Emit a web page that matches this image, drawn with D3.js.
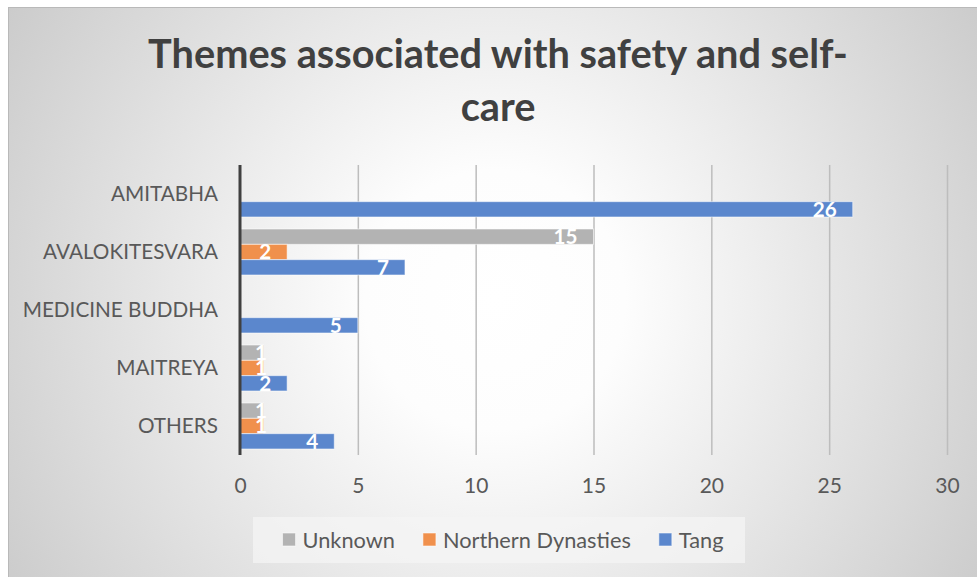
<!DOCTYPE html>
<html>
<head>
<meta charset="utf-8">
<script src="https://cdn.jsdelivr.net/npm/d3@7"></script>
<style>
  html, body { margin: 0; padding: 0; background: #ffffff; overflow: hidden; }
  svg { display: block; }
</style>
</head>
<body>
<svg id="chart" width="977" height="577"></svg>
<script>
// ---- data ----
const categories = ["AMITABHA", "AVALOKITESVARA", "MEDICINE BUDDHA", "MAITREYA", "OTHERS"];
const seriesNames = ["Unknown", "Northern Dynasties", "Tang"];
const unknownValues = [null, 15, null, 1, 1];
const northernValues = [null, 2, null, 1, 1];
const tangValues = [26, 7, 5, 2, 4];
const xTicks = [0, 5, 10, 15, 20, 25, 30];
const titleLines = ["Themes associated with safety and self-", "care"];

const seriesValues = [unknownValues, northernValues, tangValues];
const seriesColors = ["#b3b3b3", "#f0904c", "#5b87cd"];

// ---- layout ----
const W = 977, H = 577;
const FONT = "Lato, 'Open Sans', 'DejaVu Sans', sans-serif";
const plot = { left: 240, right: 947, top: 165, bottom: 455 };

const svg = d3.select("#chart");

// font size that gives a sample string a wanted width
function fitSize(sample, width, weight) {
  const t = svg.append("text")
    .attr("font-family", FONT).attr("font-weight", weight || 400)
    .attr("font-size", 100).text(sample);
  const w = t.node().getComputedTextLength();
  t.remove();
  return 100 * width / w;
}

// ---- background ----
const defs = svg.append("defs");
const grad = defs.append("radialGradient")
  .attr("id", "bg").attr("gradientUnits", "userSpaceOnUse")
  .attr("cx", 495).attr("cy", 300).attr("r", 590);
grad.append("stop").attr("offset", "0%").attr("stop-color", "#ffffff");
grad.append("stop").attr("offset", "22%").attr("stop-color", "#fdfdfd");
grad.append("stop").attr("offset", "100%").attr("stop-color", "#c9c9c9");

svg.append("rect")
  .attr("x", 8.5).attr("y", 7.5).attr("width", W - 8).attr("height", H - 7)
  .attr("fill", "url(#bg)").attr("stroke", "#b9b9b9").attr("stroke-width", 1);

// ---- title ----
const titleSize = fitSize(titleLines[0], 700, 700);
svg.append("g").selectAll("text").data(titleLines).join("text")
  .attr("x", 498)
  .attr("y", (d, i) => 67.5 + i * 53)
  .attr("text-anchor", "middle")
  .attr("font-family", FONT).attr("font-weight", 700)
  .attr("font-size", titleSize)
  .attr("fill", "#404040")
  .text(d => d);

// ---- scales ----
const x = d3.scaleLinear().domain([0, 30]).range([plot.left, plot.right]);
const y = d3.scaleBand().domain(categories)
  .range([plot.top, plot.bottom]).paddingInner(0.207).paddingOuter(0.1035);
const ySeries = d3.scaleBand().domain(seriesNames).range([0, y.bandwidth()]);

// ---- gridlines & x axis labels ----
const tickSize = 21;
const xAxis = d3.axisBottom(x).tickValues(xTicks).tickSize(0).tickPadding(0);
const gx = svg.append("g").attr("transform", `translate(0,${plot.bottom})`).call(xAxis);
gx.select(".domain").remove();
gx.selectAll(".tick text")
  .attr("y", 38).attr("dy", 0)
  .attr("font-family", FONT).attr("font-size", tickSize)
  .attr("fill", "#595959");

const grid = d3.axisBottom(x).tickValues(xTicks.filter(v => v > 0))
  .tickSize(-(plot.bottom - plot.top)).tickFormat("");
const gg = svg.append("g").attr("transform", `translate(0,${plot.bottom})`).call(grid);
gg.select(".domain").remove();
gg.selectAll(".tick line").attr("stroke", "#bdbdbd").attr("stroke-width", 1.5);

// ---- category labels ----
const catSize = fitSize("AVALOKITESVARA", 175, 400);
const yAxis = d3.axisLeft(y).tickSize(0).tickPadding(22);
const gy = svg.append("g").attr("transform", `translate(${plot.left},0)`).call(yAxis);
gy.select(".domain").remove();
gy.selectAll(".tick text")
  .attr("font-family", FONT).attr("font-size", catSize)
  .attr("fill", "#595959").attr("dy", "0.36em");

// ---- bars ----
const rows = [];
categories.forEach((c, ci) => {
  seriesNames.forEach((s, si) => {
    const v = seriesValues[si][ci];
    if (v != null) rows.push({ cat: c, series: s, value: v, color: seriesColors[si] });
  });
});

const bars = svg.append("g");
bars.selectAll("rect").data(rows).join("rect")
  .attr("x", x(0))
  .attr("y", d => y(d.cat) + ySeries(d.series))
  .attr("width", d => x(d.value) - x(0))
  .attr("height", ySeries.bandwidth())
  .attr("fill", d => d.color)
  .attr("stroke", "rgba(255,255,255,0.55)")
  .attr("stroke-width", 1);

// ---- value labels (inside end) ----
const valSize = fitSize("26", 24, 700);
const labels = bars.selectAll("text").data(rows).join("text")
  .attr("font-family", FONT).attr("font-weight", 700)
  .attr("font-size", valSize).attr("fill", "#ffffff")
  .attr("y", d => y(d.cat) + ySeries(d.series) + ySeries.bandwidth() / 2)
  .attr("dy", "0.36em")
  .text(d => d.value);
labels.each(function (d) {
  const w = this.getComputedTextLength();
  const end = x(d.value) - 16;
  const left = Math.max(end - w, x(0) + 15);
  d3.select(this).attr("x", left);
});

// ---- value axis line ----
svg.append("line")
  .attr("x1", x(0)).attr("x2", x(0))
  .attr("y1", plot.top).attr("y2", plot.bottom)
  .attr("stroke", "#404040").attr("stroke-width", 3);

// ---- legend ----
const legSize = fitSize("Northern Dynasties", 188, 400);
const legend = svg.append("g");
legend.append("rect")
  .attr("x", 253).attr("y", 517).attr("width", 492).attr("height", 46)
  .attr("fill", "#f4f4f4").attr("fill-opacity", 0.75);

const items = legend.selectAll("g.item").data(seriesNames).join("g").attr("class", "item");
items.append("rect")
  .attr("width", 13).attr("height", 13).attr("y", 533)
  .attr("fill", (d, i) => seriesColors[i])
  .attr("stroke", "rgba(255,255,255,0.55)").attr("stroke-width", 1);
items.append("text")
  .attr("y", 540).attr("dy", "0.36em")
  .attr("font-family", FONT).attr("font-size", legSize)
  .attr("fill", "#595959")
  .text(d => d);

// place legend entries one after another, centred in the legend box
const widths = [];
items.each(function () { widths.push(d3.select(this).select("text").node().getComputedTextLength()); });
const total = d3.sum(widths, w => 13 + 7 + w) + 28 * (widths.length - 1);
let cursor = 503 - total / 2;
items.each(function (d, i) {
  const g = d3.select(this);
  g.select("rect").attr("x", cursor);
  g.select("text").attr("x", cursor + 20);
  cursor += 13 + 7 + widths[i] + 28;
});
</script>
</body>
</html>
